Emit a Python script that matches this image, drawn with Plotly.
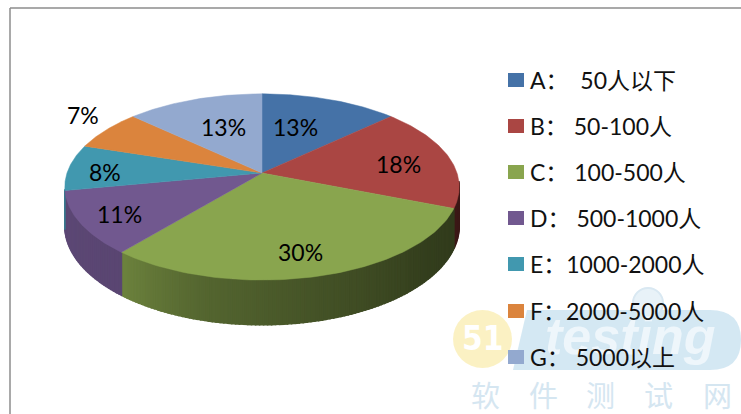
import numpy as np
import plotly.graph_objects as go

# data
categories = ["A：  50人以下", "B： 50-100人", "C： 100-500人", "D： 500-1000人",
              "E：1000-2000人", "F：2000-5000人", "G： 5000以上"]
shares = [13, 18, 30, 11, 8, 7, 13]
colors = ["#4572a7", "#aa4643", "#89a54e", "#71588f", "#4198af", "#db843d", "#93a9cf"]

# tilted pie geometry, in pixels
CX, CY = 262, 173
RX, RY = 195, 91
PERSP = 0.15
DEPTH = 38

label_x = [295, 398, 300, 119, 105, 83, 223]
label_y = [127, 164, 252, 214, 172, 115, 127]
legend_y = [80, 126, 172, 218, 264, 311, 357]


def project(theta, r=1.0, drop=0):
    # clockwise from 12 o'clock, near side drawn bigger
    u = r * np.sin(theta)
    v = -r * np.cos(theta)
    w = 1 - PERSP * v
    return CX + RX * u / w, CY + RY * v / w + drop / w


def shade(hex_color, f):
    rgb = [int(hex_color[i:i + 2], 16) for i in (1, 3, 5)]
    return "rgb({},{},{})".format(*[int(c * f) for c in rgb])


edges = np.radians(np.cumsum([0] + shares) * 3.6)

fig = go.Figure()

# outer wall, cut in thin strips so it can darken towards the right
for i in range(len(shares)):
    start, end = max(edges[i], np.radians(95)), min(edges[i + 1], np.radians(260))
    if start >= end:
        continue
    steps = np.append(np.arange(start, end, np.radians(1.0)), end)
    for a, b in zip(steps[:-1], steps[1:]):
        f = np.interp(np.degrees(a), [95, 130, 165, 195, 220, 260], [0.34, 0.38, 0.5, 0.62, 0.8, 0.82])
        c = shade(colors[i], f)
        xa, ya = project(a)
        xb, yb = project(b)
        xc, yc = project(b, drop=DEPTH)
        xd, yd = project(a, drop=DEPTH)
        fig.add_trace(go.Scatter(x=[xa, xb, xc, xd, xa], y=[ya, yb, yc, yd, ya], mode="lines",
                                 fill="toself", fillcolor=c, line=dict(color=c, width=1.5),
                                 hoverinfo="skip", showlegend=False))

# top face
for i in range(len(shares)):
    t = np.linspace(edges[i], edges[i + 1], 80)
    x, y = project(t)
    fig.add_trace(go.Scatter(x=[CX, *x, CX], y=[CY, *y, CY], mode="lines", fill="toself",
                             fillcolor=colors[i], line=dict(color=colors[i], width=0.5),
                             hoverinfo="skip", showlegend=False))

shapes = [
    dict(type="line", x0=10, x1=741, y0=8, y1=8, line=dict(color="#8c8c8c", width=1.5)),
    dict(type="line", x0=10, x1=10, y0=8, y1=414, line=dict(color="#8c8c8c", width=1.5)),
]

# watermark
shapes += [
    dict(type="path", path="M 527 310 L 710 310 Q 741 310 741 340 Q 741 370 710 370 L 513 370 Z",
         fillcolor="#cfe5f2", line=dict(width=0), opacity=0.9),
    dict(type="circle", x0=633, x1=663, y0=288, y1=318, fillcolor="#e6f1f8",
         line=dict(color="#d5e6f1", width=2), opacity=0.9),
    dict(type="circle", x0=453, x1=512, y0=310, y1=368, fillcolor="#fbf0bd", line=dict(width=0), opacity=0.9),
]

# legend swatches stay readable over the watermark
for c, y in zip(colors, legend_y):
    shapes.append(dict(type="rect", x0=508, x1=524, y0=y - 7, y1=y + 7, fillcolor=c, line=dict(width=0)))

annotations = [
    dict(x=482, y=338, text="<b>51</b>", font=dict(family="DejaVu Sans Condensed, Liberation Sans", size=33, color="white")),
    dict(x=630, y=336, text="<b><i>testing</i></b>", font=dict(family="Liberation Sans", size=52, color="#eef6fb")),
]
for ch, x in zip("软件测试网", [485, 543, 600, 658, 717]):
    annotations.append(dict(x=x, y=394, text=ch, font=dict(family="Noto Sans CJK SC", size=29, color="#d5e6f1")))

FONT = "Lato, 'Noto Sans CJK SC', sans-serif"
for s, x, y in zip(shares, label_x, label_y):
    annotations.append(dict(x=x, y=y, text=f"{s}%", font=dict(family=FONT, size=23, color="#000000")))
for name, y in zip(categories, legend_y):
    annotations.append(dict(x=528, y=y, text=name, xanchor="left", font=dict(family=FONT, size=23, color="#111111")))
for a in annotations:
    a.update(xref="x", yref="y", showarrow=False)

fig.update_layout(
    width=741,
    height=414,
    margin=dict(l=0, r=0, t=0, b=0),
    paper_bgcolor="white",
    plot_bgcolor="white",
    showlegend=False,
    shapes=shapes,
    annotations=annotations,
    xaxis=dict(range=[0, 741], visible=False, fixedrange=True),
    yaxis=dict(range=[414, 0], visible=False, fixedrange=True),
)

# page margin would push the figure 8px off
fig.write_html("out.html", config=dict(displayModeBar=False),
               post_script="document.body.style.margin='0';document.body.style.overflow='hidden';")
